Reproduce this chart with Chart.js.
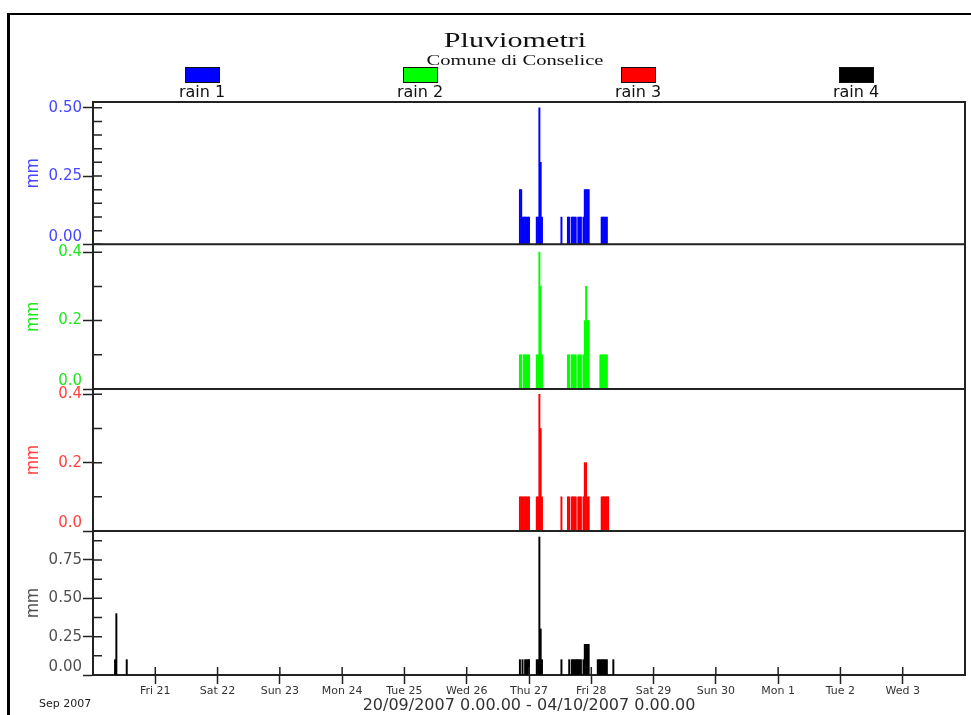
<!DOCTYPE html>
<html>
<head>
<meta charset="utf-8">
<title>Pluviometri - Comune di Conselice</title>
<script src="https://cdn.jsdelivr.net/npm/chart.js@4.4.1/dist/chart.umd.min.js"></script>
<style>
  html, body { margin: 0; padding: 0; background: #fff; overflow: hidden; }
  #page { position: relative; width: 971px; height: 715px; overflow: hidden; }
  #frame { position: absolute; left: 7px; top: 13px; width: 1000px; height: 1000px;
           border-top: 2px solid #000; border-left: 3px solid #000; }
  canvas { position: absolute; left: 0; top: 0; }
  .head { position: absolute; left: 515px; white-space: nowrap; color: #111;
          font-family: "Liberation Serif", "Times New Roman", serif;
          transform: translateX(-50%) scaleX(1.37); }
  #title { top: 28.5px; font-size: 22px; line-height: 22px; }
  #subtitle { top: 52.5px; font-size: 15px; line-height: 15px; }
  .item { position: absolute; top: 67px; width: 80px; margin-left: -40px; text-align: center;
          font-family: "DejaVu Sans", sans-serif; font-size: 16px; line-height: 16px; color: #111; }
  .item .box { width: 33px; height: 14px; margin: 0 auto 0.5px; border: 1px solid #111; }
  #month { position: absolute; left: 39px; top: 697.5px; font-family: "DejaVu Sans", sans-serif;
           font-size: 11px; line-height: 12px; color: #222; }
</style>
</head>
<body>
<div id="page">
  <div id="frame"></div>
  <canvas id="rainChart" width="971" height="715"></canvas>
  <div class="head" id="title">Pluviometri</div>
  <div class="head" id="subtitle">Comune di Conselice</div>
  <div id="legend"></div>
  <div id="month">Sep 2007</div>
</div>
<script>
// hours counted from 20/09/2007 0.00 (half-hour readings), rain in mm
const seriesNames = ['rain 1', 'rain 2', 'rain 3', 'rain 4'];
const seriesColors = ['#0000ff', '#00ff00', '#ff0000', '#000000'];
const axisColors = ['#4646ff', '#22e622', '#ff4040', '#505050'];
const dayLabels = ['', 'Fri 21', 'Sat 22', 'Sun 23', 'Mon 24', 'Tue 25', 'Wed 26', 'Thu 27',
  'Fri 28', 'Sat 29', 'Sun 30', 'Mon 1', 'Tue 2', 'Wed 3', ''];

const rain1Hours = [164.5, 165, 165.5, 166, 166.5, 167, 167.5, 168, 171, 171.5, 172, 172.5, 173,
  180.5, 183, 183.5, 184.5, 185, 185.5, 186, 187, 187.5, 188, 189, 189.5, 190, 190.5, 191,
  196, 196.5, 197, 197.5, 198];
const rain1Mm = [0.2, 0.2, 0.1, 0.1, 0.1, 0.1, 0.1, 0.1, 0.1, 0.1, 0.5, 0.3, 0.1,
  0.1, 0.1, 0.1, 0.1, 0.1, 0.1, 0.1, 0.1, 0.1, 0.1, 0.1, 0.2, 0.2, 0.2, 0.2,
  0.1, 0.1, 0.1, 0.1, 0.1];

const rain2Hours = [164.5, 165, 166, 166.5, 167, 167.5, 168, 171, 171.5, 172, 172.5, 173,
  183, 183.5, 184.5, 185, 185.5, 186, 187, 187.5, 188, 189, 189.5, 190, 190.5, 191,
  195.5, 196, 196.5, 197, 197.5, 198];
const rain2Mm = [0.1, 0.1, 0.1, 0.1, 0.1, 0.1, 0.1, 0.1, 0.1, 0.4, 0.3, 0.1,
  0.1, 0.1, 0.1, 0.1, 0.1, 0.1, 0.1, 0.1, 0.1, 0.1, 0.2, 0.3, 0.2, 0.2,
  0.1, 0.1, 0.1, 0.1, 0.1, 0.1];

const rain3Hours = [164.5, 165, 165.5, 166, 166.5, 167, 167.5, 168, 171, 171.5, 172, 172.5, 173,
  180.5, 183, 183.5, 184.5, 185, 185.5, 186, 187, 187.5, 188, 189, 189.5, 190, 190.5, 191,
  196, 196.5, 197, 197.5, 198, 198.5];
const rain3Mm = [0.1, 0.1, 0.1, 0.1, 0.1, 0.1, 0.1, 0.1, 0.1, 0.1, 0.4, 0.3, 0.1,
  0.1, 0.1, 0.1, 0.1, 0.1, 0.1, 0.1, 0.1, 0.1, 0.1, 0.1, 0.2, 0.2, 0.1, 0.1,
  0.1, 0.1, 0.1, 0.1, 0.1, 0.1];

const rain4Hours = [8.5, 9, 13, 164.5, 165.5, 166.5, 167, 167.5, 168, 171, 171.5, 172, 172.5, 173,
  180.5, 183.5, 184.5, 185, 185.5, 186, 186.5, 187, 187.5, 188, 189, 189.5, 190, 190.5, 191,
  194.5, 195, 195.5, 196, 196.5, 197, 197.5, 198, 200.5];
const rain4Mm = [0.1, 0.4, 0.1, 0.1, 0.1, 0.1, 0.1, 0.1, 0.1, 0.1, 0.1, 0.9, 0.3, 0.1,
  0.1, 0.1, 0.1, 0.1, 0.1, 0.1, 0.1, 0.1, 0.1, 0.1, 0.1, 0.2, 0.2, 0.2, 0.2,
  0.1, 0.1, 0.1, 0.1, 0.1, 0.1, 0.1, 0.1, 0.1];

const allHours = [rain1Hours, rain2Hours, rain3Hours, rain4Hours];
const allMm = [rain1Mm, rain2Mm, rain3Mm, rain4Mm];

// y range of each panel, minor step, labelled step, decimals
const panelMax = [0.521, 0.423, 0.4155, 0.939];
const panelStep = [0.05, 0.1, 0.1, 0.125];
const panelMajor = [0.25, 0.2, 0.2, 0.25];
const panelDigits = [2, 1, 1, 2];
const panelHeight = [142.3, 144.7, 142, 144];

// legend
const legend = document.getElementById('legend');
seriesNames.forEach((name, i) => {
  const item = document.createElement('div');
  item.className = 'item';
  item.style.left = (202 + i * 218) + 'px';
  item.innerHTML = '<div class="box" style="background:' + seriesColors[i] + '"></div>' + name;
  legend.appendChild(item);
});

const isMajor = (v, major) => Math.abs(v / major - Math.round(v / major)) < 1e-6;

function panelScale(i) {
  return {
    type: 'linear',
    position: 'left',
    stack: 'panels',
    stackWeight: panelHeight[i],
    weight: 4 - i,
    min: 0,
    max: panelMax[i],
    afterFit: s => { s.width = 88; },
    border: { color: '#222', width: 2 },
    grid: {
      drawOnChartArea: false,
      tickLength: 10,
      tickWidth: 1.5,
      tickColor: ctx => isMajor(ctx.tick.value, panelMajor[i]) ? '#222' : 'rgba(0,0,0,0)'
    },
    ticks: {
      stepSize: panelStep[i],
      includeBounds: false,
      autoSkip: false,
      padding: 1,
      color: axisColors[i],
      font: { family: 'DejaVu Sans', size: 15, lineHeight: 1 },
      callback: v => {
        if (!isMajor(v, panelMajor[i])) return '';
        const txt = v.toFixed(panelDigits[i]);
        return Math.abs(v) < 1e-9 ? [txt, ''] : txt;
      }
    },
    title: {
      display: true,
      text: 'mm',
      color: axisColors[i],
      font: { family: 'Liberation Sans', size: 18 },
      padding: { top: 17, bottom: 0 }
    }
  };
}

const panelFrame = {
  id: 'panelFrame',
  afterDraw(chart) {
    const { ctx, chartArea: a } = chart;
    ctx.save();
    ctx.strokeStyle = '#222';
    ctx.lineWidth = 2;
    ctx.beginPath();
    ctx.moveTo(a.left, a.top);
    ctx.lineTo(a.right, a.top);
    ctx.lineTo(a.right, a.bottom);
    ['y1', 'y2', 'y3'].forEach(id => {
      const s = chart.scales[id];
      ctx.moveTo(a.left, s.bottom);
      ctx.lineTo(a.right, s.bottom);
    });
    ctx.stroke();
    ctx.lineWidth = 1.5;
    ctx.beginPath();
    ['y1', 'y2', 'y3', 'y4'].forEach(id => {
      const s = chart.scales[id];
      s.ticks.forEach(t => {
        const y = s.getPixelForValue(t.value);
        ctx.moveTo(a.left, y);
        ctx.lineTo(a.left + 9, y);
      });
    });
    const xs = chart.scales.x;
    xs.ticks.forEach(t => {
      if (t.value > 0 && t.value < 336) {
        const x = xs.getPixelForValue(t.value);
        ctx.moveTo(x, a.bottom);
        ctx.lineTo(x, a.bottom - 8);
      }
    });
    ctx.stroke();
    ctx.restore();
  }
};

const datasets = seriesNames.map((name, i) => ({
  label: name,
  data: allHours[i].map((h, k) => ({ x: h, y: allMm[i][k] })),
  backgroundColor: seriesColors[i],
  borderWidth: 0,
  yAxisID: 'y' + (i + 1),
  grouped: false,
  barPercentage: 1,
  categoryPercentage: 1
}));

const scales = {
  x: {
    type: 'linear',
    min: 0,
    max: 336,
    offset: false,
    afterFit: s => { s.height = 40; },
    border: { color: '#222', width: 2 },
    grid: {
      offset: false,
      drawOnChartArea: false,
      tickLength: 9,
      tickWidth: 1.5,
      tickColor: ctx => (ctx.tick.value > 0 && ctx.tick.value < 336) ? '#222' : 'rgba(0,0,0,0)'
    },
    ticks: {
      stepSize: 24,
      autoSkip: false,
      maxRotation: 0,
      padding: 1,
      color: '#333',
      font: { family: 'DejaVu Sans', size: 11 },
      callback: v => dayLabels[Math.round(v / 24)]
    },
    title: {
      display: true,
      text: '20/09/2007 0.00.00 - 04/10/2007 0.00.00',
      color: '#333',
      font: { family: 'DejaVu Sans', size: 16 },
      padding: { top: 0, bottom: 0 }
    }
  }
};
seriesNames.forEach((n, i) => { scales['y' + (i + 1)] = panelScale(i); });

//eslint-disable-next-line
const rainChart = new Chart(document.getElementById('rainChart'), {
  type: 'bar',
  data: { datasets },
  options: {
    responsive: false,
    animation: false,
    layout: { padding: { left: 5, right: 6, top: 102, bottom: 0 } },
    plugins: { legend: { display: false }, tooltip: { enabled: false } },
    scales
  },
  plugins: [panelFrame]
});
</script>
</body>
</html>
